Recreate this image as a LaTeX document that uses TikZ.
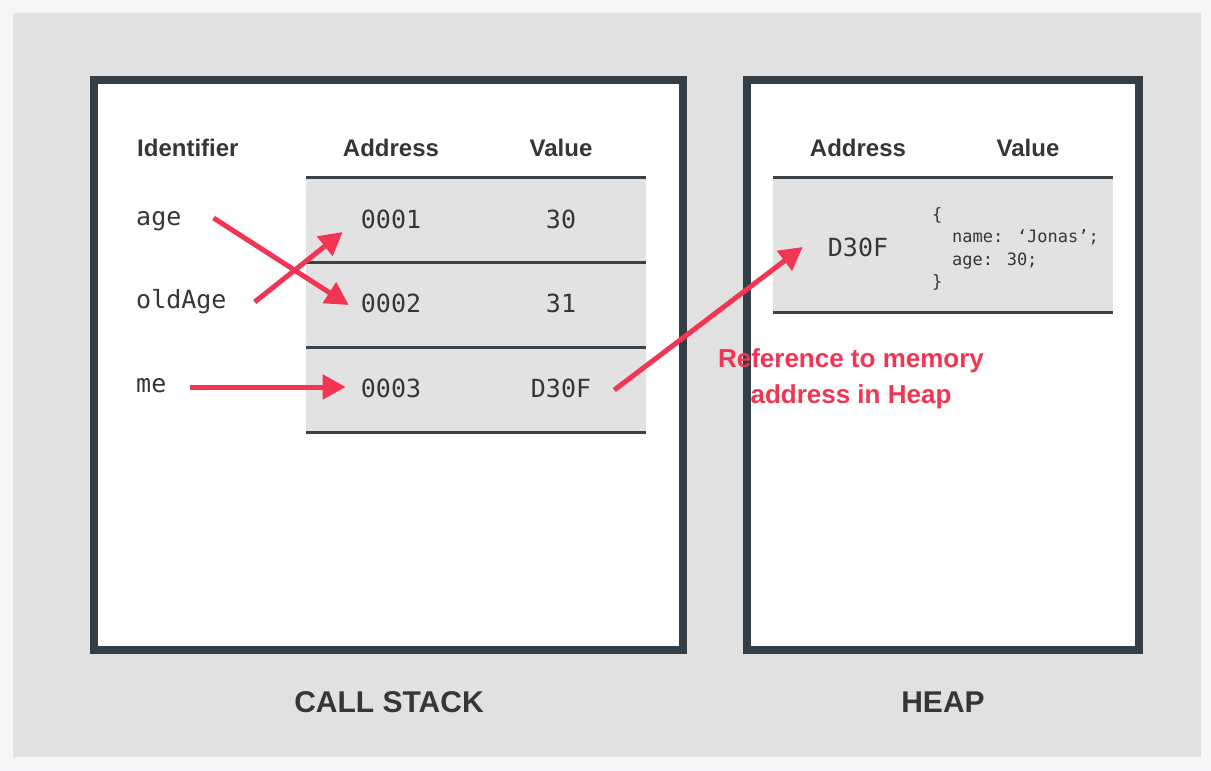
\documentclass[tikz,border=0pt]{standalone}
\usepackage{fontspec}
\usetikzlibrary{arrows.meta}
\newfontfamily\lsans{Liberation Sans}
\newfontfamily\dmono{DejaVu Sans Mono}
\definecolor{outerbg}{HTML}{F6F5F8}
\definecolor{panel}{HTML}{E1E1E1}
\definecolor{frame}{HTML}{333E47}
\definecolor{rowfill}{HTML}{E2E2E2}
\definecolor{rule}{HTML}{3A4249}
\definecolor{ink}{HTML}{363636}
\definecolor{accent}{HTML}{F23552}
\tikzset{
  hdr/.style={font=\lsans\bfseries\fontsize{24}{28}\selectfont, text=ink, inner sep=0pt, anchor=base},
  mono/.style={font=\dmono\fontsize{25}{30}\selectfont, text=ink, inner sep=0pt},
  obj/.style={font=\dmono\fontsize{17}{21}\selectfont, text=ink, inner sep=0pt, anchor=base west},
  title/.style={font=\lsans\bfseries\fontsize{30}{36}\selectfont, text=ink, inner sep=0pt, anchor=base},
  note/.style={font=\lsans\bfseries\fontsize{26}{30}\selectfont, text=accent, inner sep=0pt, anchor=base},
  ptr/.style={draw=accent, line width=5pt, -{Triangle[length=23pt,width=24pt]}},
  boxframe/.style={draw=frame, line width=8pt, fill=white},
  rowline/.style={draw=rule, line width=3pt},
}
\begin{document}
\begin{tikzpicture}[x=1pt,y=-1pt]
\useasboundingbox (0,0) rectangle (1211,771);
\fill[outerbg] (0,0) rectangle (1211,771);
\fill[panel] (13,13) rectangle (1201,757);
% frames
\path[boxframe] (94,80) rectangle (683,650);
\path[boxframe] (747,80) rectangle (1139,650);
% call stack table
\fill[rowfill] (306,177) rectangle (646,432);
\foreach \yy in {177,262,347,432} \draw[rowline] (306,\yy) -- (646,\yy);
% heap table
\fill[rowfill] (773,177) rectangle (1113,312);
\foreach \yy in {177,312} \draw[rowline] (773,\yy) -- (1113,\yy);
% headers
\node[hdr, anchor=base west] (hid) at (137,156) {Identifier};
\node[hdr] (hadr) at (391,156) {Address};
\node[hdr] (hval) at (561,156) {Value};
\node[hdr] (hhadr) at (858,156) {Address};
\node[hdr] (hhval) at (1028,156) {Value};
% identifiers
\node[mono, anchor=base west] (age) at (136,225) {age};
\node[mono, anchor=base west] (old) at (136,308) {oldAge};
\node[mono, anchor=base west] (me) at (136,392) {me};
% addresses and values
\node[mono, anchor=base] (a1) at (391,228) {0001};
\node[mono, anchor=base] (a2) at (391,312) {0002};
\node[mono, anchor=base] (a3) at (391,397) {0003};
\node[mono, anchor=base] (v1) at (561,228) {30};
\node[mono, anchor=base] (v2) at (561,312) {31};
\node[mono, anchor=base] (v3) at (561,397) {D30F};
% heap
\node[mono, anchor=base] (hd) at (858,256) {D30F};
\node[obj] (o1) at (932,220) {\{};
\node[obj] (o2) at (952,242.5) {name: ‘Jonas’;};
\node[obj] (o3) at (952,265) {age: 30;};
\node[obj] (o4) at (932,287.5) {\}};
% titles
\node[title] (cs) at (389,712) {CALL STACK};
\node[title] (hp) at (943,712) {HEAP};
% pointers
\draw[ptr] ([xshift=32pt,yshift=7pt]age.base east) -- ([xshift=-12pt,yshift=7pt]a2.base west);
\draw[ptr] ([xshift=28pt,yshift=6pt]old.base east) -- ([xshift=-18pt,yshift=-4pt]a1.base west);
\draw[ptr] ([xshift=23pt,yshift=5pt]me.base east) -- ([xshift=-15pt,yshift=10pt]a3.base west);
\draw[ptr] ([xshift=23pt,yshift=7pt]v3.base east) -- ([xshift=-25pt,yshift=9pt]hd.base west);
% note
\node[note] (n1) at (851,367) {Reference to memory};
\node[note] (n2) at (851,403) {address in Heap};
\end{tikzpicture}
\end{document}
